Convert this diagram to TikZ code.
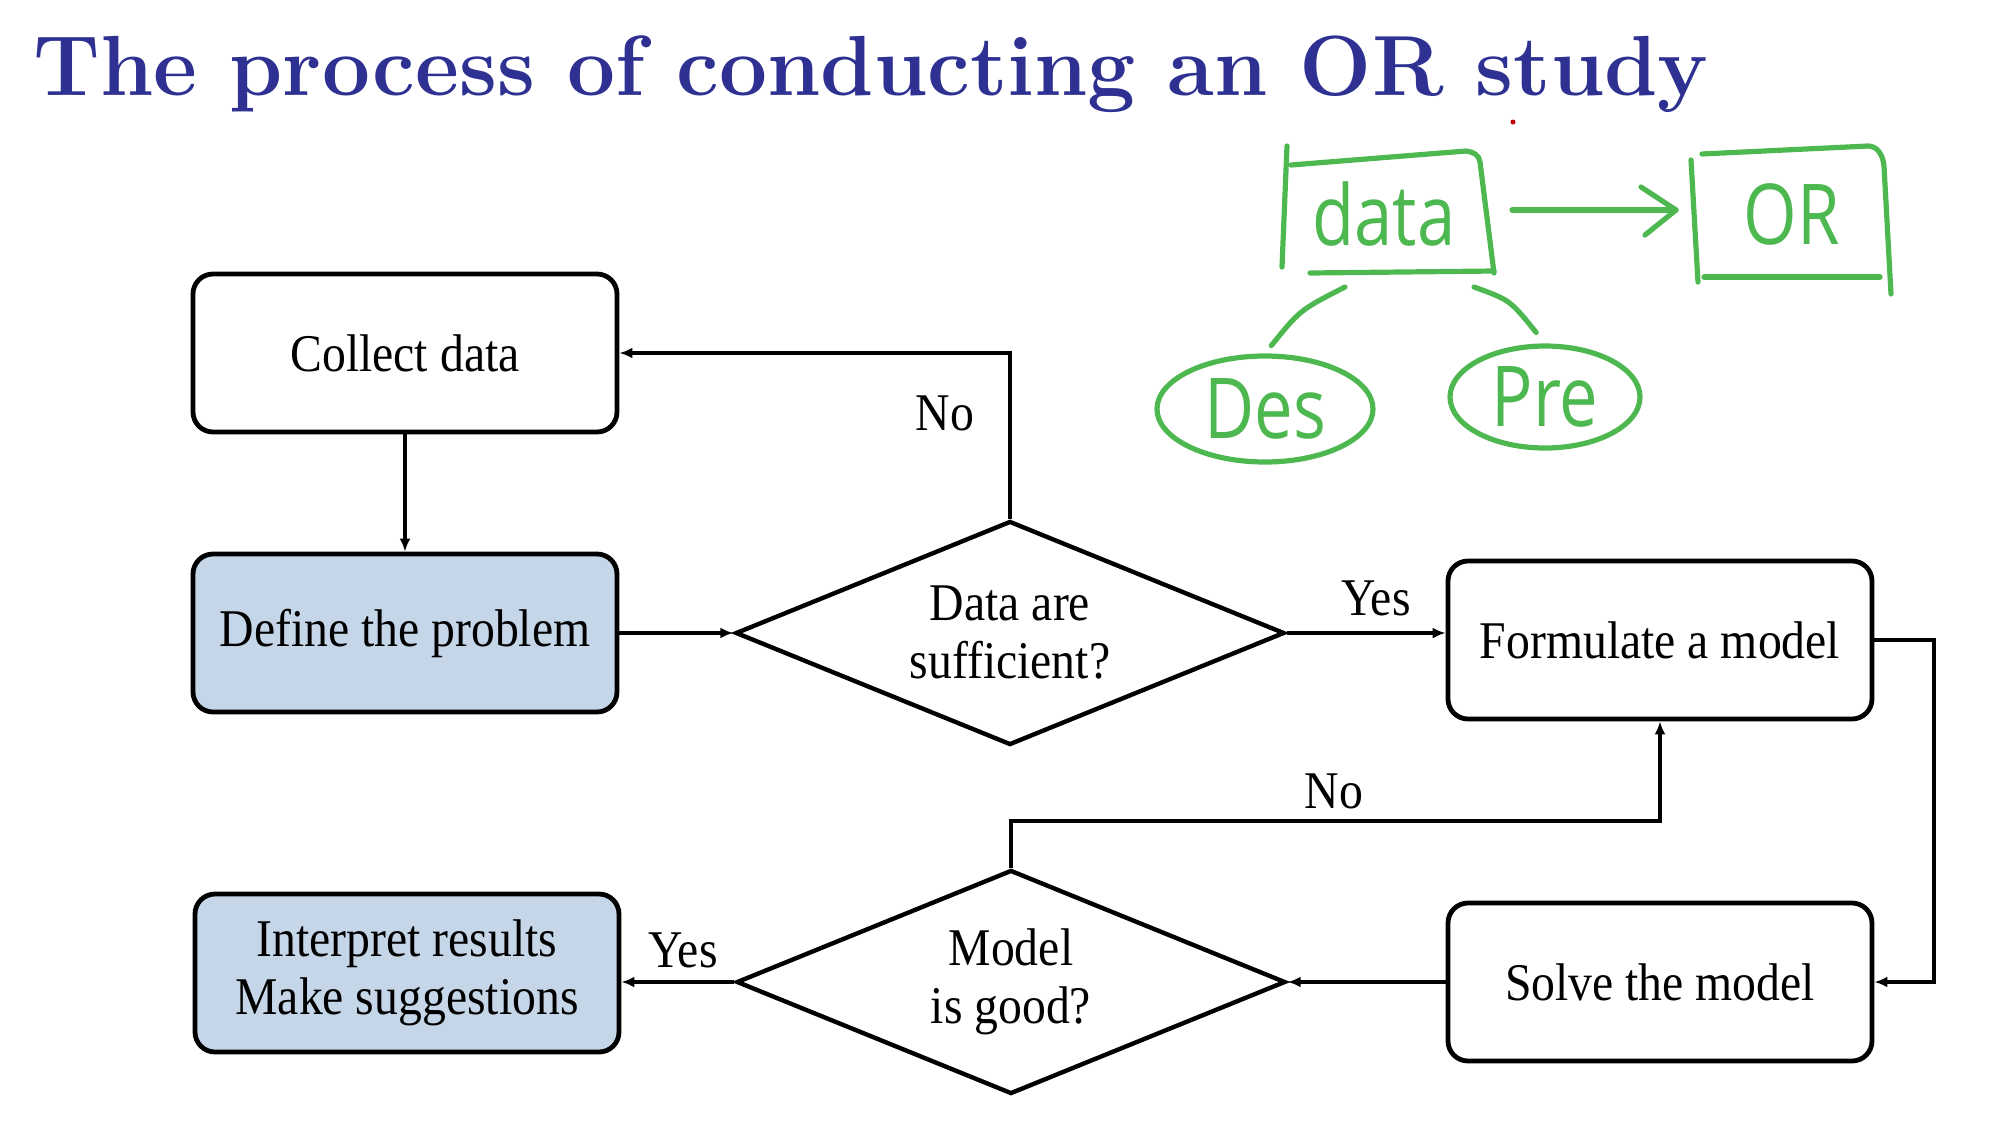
\documentclass[tikz,border=0pt]{standalone}
\usepackage{fontspec}
\usetikzlibrary{shapes.geometric,arrows.meta,calc}
\newfontfamily\flowfont{Liberation Serif}[FakeStretch=0.9]
\newfontfamily\penfont{Open Sans}[FakeStretch=0.82]
\definecolor{titleblue}{RGB}{46,49,146}
\definecolor{boxblue}{RGB}{197,214,232}
\definecolor{pengreen}{RGB}{78,184,80}

\begin{document}
\begin{tikzpicture}[x=0.5pt,y=-0.5pt,
  flowtext/.style={font=\flowfont\fontsize{26.5}{29}\selectfont},
  box/.style={flowtext, draw, line width=2.4pt, rounded corners=10pt,
    minimum width=212pt, minimum height=79pt, align=center, inner sep=0pt},
  shaded/.style={box, fill=boxblue},
  decision/.style={flowtext, draw, diamond, aspect=2.45, line width=2.2pt,
    minimum width=274.5pt, minimum height=112pt, inner sep=0pt, align=center},
  arr/.style={line width=2pt, -{Latex[length=6.5pt,width=5.5pt]}},
  lbl/.style={flowtext, inner sep=0pt},
  pen/.style={draw=pengreen, line width=2.6pt, line cap=round, line join=round},
  pentext/.style={text=pengreen, inner sep=0pt},
]
\useasboundingbox (0,0) rectangle (1994,1126);

% heading
\node[anchor=base west, inner sep=0pt, text=titleblue,
      font=\fontsize{42.7}{48}\selectfont\bfseries] (title) at (33,95)
  {The process of conducting an OR study};

% flowchart nodes
\node[box]    (collect)   at (405,353)  {Collect data};
\node[shaded] (define)    at (405,633)  {Define the problem};
\node[shaded] (interpret) at (407,973)  {Interpret results\\Make suggestions};
\node[box]    (formulate) at (1660,640) {Formulate a model};
\node[box]    (solve)     at (1660,982) {Solve the model};
\node[decision] (suff) at (1010,633) {Data are\\sufficient?};
\node[decision] (good) at (1011,982) {Model\\is good?};

% connectors
\draw[arr] (collect.south) -- (define.north);
\draw[arr] (define.east) -- (suff.west);
\draw[arr] (suff.north) |- (collect.east);
\draw[arr] (suff.east) -- (suff.east -| formulate.west);
\draw[arr] (formulate.east) -- ++(60,0) |- (solve.east);
\draw[arr] (solve.west) -- (good.east);
\draw[arr] (good.north) -- ++(0,-47) -| (formulate.south);
\draw[arr] (good.west) -- (good.west -| interpret.east);

% branch labels
\node[lbl] (noA)  at (945,413)  {No};
\node[lbl] (yesA) at (1376,598) {Yes};
\node[lbl] (noB)  at (1334,791) {No};
\node[lbl] (yesB) at (683,950)  {Yes};

% pen sketch: data -> OR, data split into Des / Pre
\begin{scope}[font=\penfont\fontsize{42}{48}\selectfont]
  \node[pentext] (data) at (1384,214) {data};
  \draw[pen] (1287,146) -- (1282,267);
  \draw[pen] (1291,165) -- (1466,151) to[out=-5,in=95] (1480,162) -- (1494,273);
  \draw[pen] (1310,273) -- (1494,271);

  \node[pentext] (or) at (1792,214) {OR};
  \draw[pen] (1691,160) -- (1698,282);
  \draw[pen] (1702,154) -- (1868,146) to[out=0,in=95] (1884,166) -- (1891,294);
  \draw[pen] (1704,277) -- (1880,277);

  \coordinate (dataR) at (1512,210);
  \coordinate (orL)   at (1676,210);
  \draw[pen] (dataR) -- (orL);
  \draw[pen] (1641,187) -- (orL) -- (1645,235);

  \node[pen, ellipse, minimum width=108pt, minimum height=53pt, pentext,
        inner sep=0pt] (des) at (1265,409) {Des};
  \node[pen, ellipse, minimum width=95pt, minimum height=51pt, pentext,
        inner sep=0pt] (pre) at (1545,397) {Pre};

  \coordinate (dataBL) at (1345,287);
  \coordinate (dataBR) at (1474,287);
  \draw[pen, shorten >=5pt] (dataBL) .. controls (1300,310) .. (des.north);
  \draw[pen, shorten >=7pt] (dataBR) .. controls (1510,300) .. (pre.north);
\end{scope}
\fill[red!75!black] (1513,122) circle[radius=2.5];
\end{tikzpicture}
\end{document}
